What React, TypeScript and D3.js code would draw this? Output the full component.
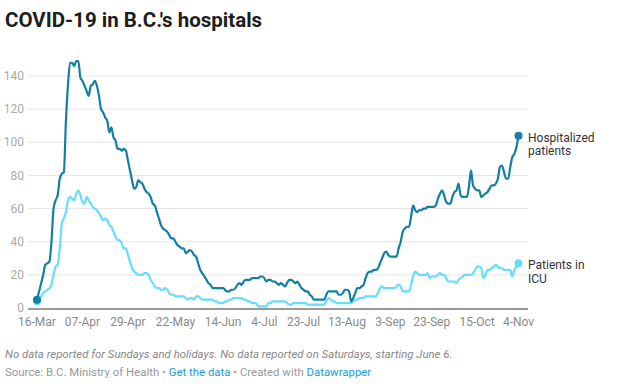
import React, { useEffect, useRef } from "react";
import * as d3 from "d3";

// daily values starting 16 March 2020 (Sundays/holidays interpolated by the source)
const startDate = "2020-03-16";

const hospitalized = [
  5, 10, 15, 20, 26, 27, 28, 40, 60, 65,
  68, 78, 81, 82, 113, 135, 148, 148, 146, 149,
  149, 139, 137, 134, 131, 128, 134, 135, 137, 134,
  128, 120, 118, 115, 113, 106, 109, 103, 101, 96,
  96, 95, 96, 95, 89, 83, 77, 72, 73, 77,
  76, 75, 72, 70, 69, 67, 63, 62, 58, 54,
  50, 48, 47, 46, 44, 42, 42, 40, 38, 37,
  36, 36, 33, 34, 35, 34, 32, 31, 27, 23,
  21, 19, 17, 15, 14, 12, 12, 12, 12, 12,
  12, 11, 10, 10, 11, 11, 12, 14, 15, 14,
  16, 17, 17, 17, 18, 18, 18, 18, 19, 19,
  18, 16, 17, 17, 16, 16, 15, 14, 15, 14,
  13, 15, 17, 17, 16, 15, 16, 14, 12, 11,
  10, 10, 8, 7, 5, 5, 5, 5, 5, 5,
  8, 10, 10, 10, 10, 10, 8, 8, 9, 11,
  11, 10, 4, 6, 9, 12, 12, 13, 14, 18,
  21, 22, 22, 23, 23, 24, 27, 30, 33, 34,
  32, 31, 31, 31, 31, 36, 40, 46, 48, 49,
  49, 55, 62, 59, 58, 59, 59, 60, 60, 61,
  61, 61, 61, 62, 66, 69, 71, 68, 64, 63,
  63, 67, 70, 71, 75, 68, 67, 67, 67, 73,
  83, 74, 72, 71, 71, 67, 68, 69, 70, 72,
  74, 74, 75, 78, 85, 86, 82, 78, 78, 85,
  91, 93, 97, 104,
];

const icu = [
  4, 5, 7, 9, 10, 11, 12, 14, 20, 25,
  26, 36, 51, 54, 58, 65, 67, 66, 65, 69,
  71, 68, 64, 63, 67, 65, 63, 61, 60, 59,
  57, 55, 53, 54, 53, 50, 49, 46, 43, 41,
  41, 39, 36, 36, 32, 28, 24, 22, 21, 20,
  20, 20, 21, 21, 20, 17, 15, 13, 12, 12,
  11, 11, 12, 11, 9, 8, 8, 7, 7, 7,
  7, 7, 6, 5, 6, 6, 5, 7, 7, 6,
  5, 5, 5, 5, 5, 5, 4, 4, 3, 3,
  3, 4, 4, 5, 5, 6, 6, 6, 6, 6,
  5, 5, 4, 4, 3, 3, 3, 1, 1, 1,
  1, 1, 3, 3, 4, 4, 4, 4, 4, 4,
  4, 3, 2, 2, 3, 3, 3, 3, 3, 3,
  3, 2, 2, 2, 2, 2, 2, 2, 2, 2,
  4, 6, 5, 4, 4, 3, 3, 3, 3, 3,
  3, 3, 3, 4, 5, 5, 6, 6, 6, 7,
  7, 7, 7, 7, 7, 9, 12, 13, 12, 12,
  12, 12, 12, 12, 13, 14, 13, 10, 10, 10,
  10, 14, 19, 22, 21, 20, 20, 20, 20, 21,
  18, 19, 19, 19, 20, 21, 20, 20, 18, 16,
  16, 16, 16, 15, 17, 18, 19, 20, 20, 20,
  20, 21, 23, 25, 25, 24, 18, 20, 23, 23,
  24, 25, 26, 25, 24, 24, 23, 23, 23, 23,
  19, 23, 25, 27,
];

const tickDates = [
  "2020-03-16", "2020-04-07", "2020-04-29", "2020-05-22", "2020-06-14", "2020-07-04",
  "2020-07-23", "2020-08-13", "2020-09-03", "2020-09-23", "2020-10-15", "2020-11-04",
];
const tickLabels = [
  "16-Mar", "07-Apr", "29-Apr", "22-May", "14-Jun", "4-Jul",
  "23-Jul", "13-Aug", "3-Sep", "23-Sep", "15-Oct", "4-Nov",
];
const yTicks = [0, 20, 40, 60, 80, 100, 120, 140];

const seriesNames = [["Hospitalized", "patients"], ["Patients in", "ICU"]];
const seriesColors = ["#137fa3", "#66dcff"];

const width = 628;
const height = 392;
const font = "Roboto, 'Noto Sans', sans-serif";

export default function App() {
  const ref = useRef<SVGSVGElement>(null);

  useEffect(() => {
    document.body.style.margin = "0";
    const svg = d3.select(ref.current);
    svg.selectAll("*").remove();

    const parse = d3.timeParse("%Y-%m-%d");
    const start = parse(startDate) as Date;
    const dates = hospitalized.map((_, i) => d3.timeDay.offset(start, i));
    const end = dates[dates.length - 1];

    const x = d3.scaleTime().domain([start, end]).range([37, 518.5]);
    const y = d3.scaleLinear().domain([0, 140]).range([308, 76]);
    const gridLeft = 28;
    const gridRight = 528;

    // title
    svg.append("text")
      .attr("x", 5).attr("y", 27)
      .attr("font-family", font).attr("font-weight", 700).attr("font-size", 20.5)
      .attr("fill", "#1d1d1d")
      .text("COVID-19 in B.C.'s hospitals");

    // gridlines + y labels
    const grid = svg.append("g");
    grid.selectAll("line")
      .data(yTicks.filter((t) => t > 0))
      .enter().append("line")
      .attr("x1", gridLeft).attr("x2", gridRight)
      .attr("y1", (d) => y(d)).attr("y2", (d) => y(d))
      .attr("stroke", "#e6e6e6").attr("stroke-width", 1);
    grid.selectAll("text")
      .data(yTicks)
      .enter().append("text")
      .attr("x", 24).attr("y", (d) => y(d))
      .attr("dy", "0.35em")
      .attr("text-anchor", "end")
      .attr("font-family", font).attr("font-size", 12)
      .attr("fill", "#aaaaaa")
      .text((d) => d);

    // baseline
    svg.append("line")
      .attr("x1", gridLeft).attr("x2", gridRight)
      .attr("y1", y(0) + 1).attr("y2", y(0) + 1)
      .attr("stroke", "#999").attr("stroke-width", 2);

    // x labels
    svg.append("g").selectAll("text")
      .data(tickDates)
      .enter().append("text")
      .attr("x", (d) => x(parse(d) as Date))
      .attr("y", 326)
      .attr("text-anchor", "middle")
      .attr("font-family", font).attr("font-size", 12)
      .attr("fill", "#8a8a8a")
      .text((_, i) => tickLabels[i]);

    const line = d3.line<number>()
      .x((_, i) => x(dates[i]))
      .y((d) => y(d))
      .curve(d3.curveMonotoneX);

    const series = [hospitalized, icu];
    // draw ICU first so the darker line sits on top
    [1, 0].forEach((k) => {
      const vals = series[k];
      svg.append("path")
        .datum(vals)
        .attr("d", line)
        .attr("fill", "none")
        .attr("stroke", seriesColors[k])
        .attr("stroke-width", 2.2)
        .attr("stroke-linejoin", "round");
      [0, vals.length - 1].forEach((i) => {
        svg.append("circle")
          .attr("cx", x(dates[i])).attr("cy", y(vals[i]))
          .attr("r", 4)
          .attr("fill", seriesColors[k]);
      });
      const lbl = svg.append("text")
        .attr("font-family", font).attr("font-size", 12)
        .attr("fill", "#333");
      seriesNames[k].forEach((s, j) => {
        lbl.append("tspan")
          .attr("x", 528)
          .attr("y", y(vals[vals.length - 1]) + 6 + j * 13.5)
          .text(s);
      });
    });

    // footer
    svg.append("text")
      .attr("x", 5).attr("y", 358)
      .attr("font-family", font).attr("font-size", 11.4).attr("font-style", "italic")
      .attr("fill", "#888")
      .text("No data reported for Sundays and holidays. No data reported on Saturdays, starting June 6.");

    const src = svg.append("text")
      .attr("x", 5).attr("y", 376)
      .attr("font-family", font).attr("font-size", 11.4)
      .attr("fill", "#999");
    src.append("tspan").text("Source: B.C. Ministry of Health • ");
    src.append("tspan").attr("fill", "#1e9ed6").text("Get the data");
    src.append("tspan").text(" • Created with ");
    src.append("tspan").attr("fill", "#1e9ed6").text("Datawrapper");
  }, []);

  return <svg ref={ref} width={width} height={height} style={{ display: "block", background: "#fff" }} />;
}
